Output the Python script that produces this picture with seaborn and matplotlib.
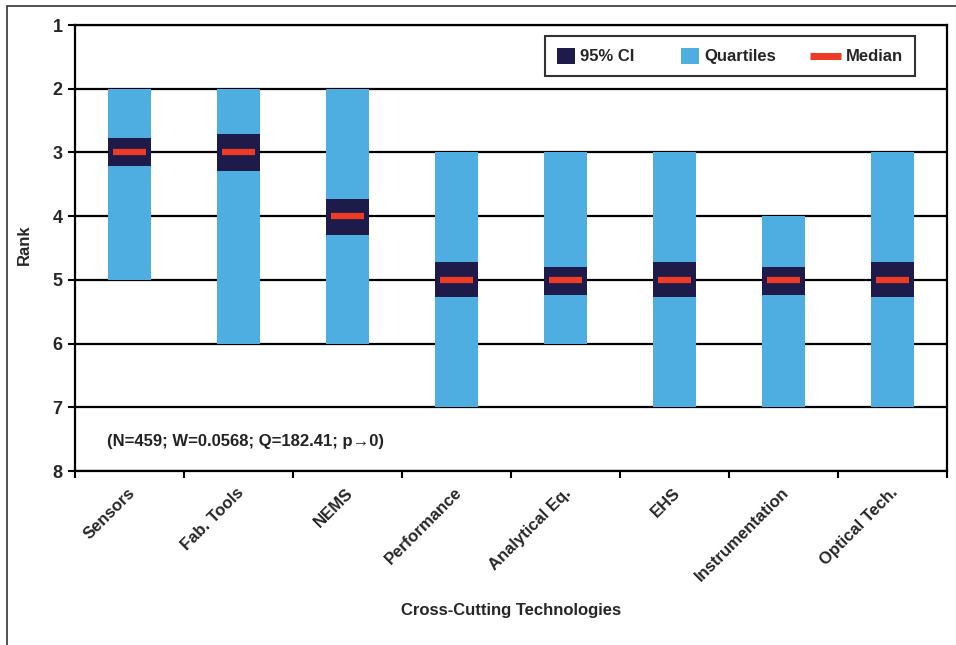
#!/usr/bin/env python3
"""Rank distribution of cross-cutting technologies: quartiles, 95% CI and median."""

import numpy as np
import pandas as pd
import matplotlib
matplotlib.use("Agg")
import matplotlib.pyplot as plt
import matplotlib.transforms as mtransforms
from matplotlib.patches import Patch, Rectangle
from matplotlib.lines import Line2D
from matplotlib.legend_handler import HandlerBase
import seaborn as sns


# ---------------------------------------------------------------------------
# Data
# ---------------------------------------------------------------------------
categories = ["Sensors", "Fab. Tools", "NEMS", "Performance",
              "Analytical Eq.", "EHS", "Instrumentation", "Optical Tech."]
q1 = [2, 2, 2, 3, 3, 3, 4, 3]
q3 = [5, 6, 6, 7, 6, 7, 7, 7]
ci_lo = [2.77, 2.71, 3.73, 4.72, 4.80, 4.72, 4.80, 4.72]
ci_hi = [3.21, 3.29, 4.30, 5.27, 5.23, 5.27, 5.23, 5.27]
median = [3, 3, 4, 5, 5, 5, 5, 5]
rank_ticks = [1, 2, 3, 4, 5, 6, 7, 8]
stats_note = "(N=459; W=0.0568; Q=182.41; p\u21920)"

LIGHT_BLUE = "#4FAEE1"
NAVY = "#1E1B4B"
RED = "#EE3B24"


class HandlerWideLine(HandlerBase):
    """Median swatch: a thick red bar a bit longer than the square swatches."""

    def create_artists(self, legend, orig_handle, xdescent, ydescent,
                       width, height, fontsize, trans):
        y = height / 2 - ydescent
        extra = 9.5  # points added on the left
        line = Line2D([-xdescent - extra, width - xdescent], [y, y],
                      color=orig_handle.get_color(), linewidth=5,
                      solid_capstyle="butt", transform=trans)
        return [line]


sns.set_theme(style="white")
plt.rcParams["font.family"] = ["Liberation Sans", "DejaVu Sans"]
plt.rcParams["font.weight"] = "bold"

df = pd.DataFrame({
    "tech": categories,
    "q1": q1, "q3": q3,
    "ci_lo": ci_lo, "ci_hi": ci_hi,
    "median": median,
})
df["iqr"] = df["q3"] - df["q1"]
df["ci"] = df["ci_hi"] - df["ci_lo"]

fig = plt.figure(figsize=(9.56, 6.45), dpi=100)
ax = fig.add_axes([75 / 956, 1 - 471 / 645, 872 / 956, 446 / 645])

# quartile bars
sns.barplot(data=df, x="tech", y="iqr", bottom=df["q1"].values,
            color=LIGHT_BLUE, saturation=1, width=0.395, errorbar=None,
            linewidth=0, ax=ax, zorder=2)
# 95% CI boxes
sns.barplot(data=df, x="tech", y="ci", bottom=df["ci_lo"].values,
            color=NAVY, saturation=1, width=0.395, errorbar=None,
            linewidth=0, ax=ax, zorder=3)
# medians
xpos = np.arange(len(categories))
ax.hlines(df["median"], xpos - 0.147, xpos + 0.147, color=RED, lw=4.5, zorder=4)

ax.set_ylim(8, 1)
ax.set_xlim(-0.5, len(categories) - 0.5)
ax.set_yticks(rank_ticks)
ax.set_yticklabels([str(t) for t in rank_ticks], fontsize=13, fontweight="bold")
ax.yaxis.grid(True, color="black", linewidth=1.6)
ax.set_axisbelow(True)
ax.tick_params(axis="y", left=True, length=5, width=1.5, color="black", pad=4)

# x ticks: marks at category boundaries, labels at centres
ax.set_xticks(np.arange(-0.5, len(categories)), minor=True)
ax.tick_params(axis="x", which="minor", bottom=True, length=5, width=1.5, color="black")
ax.tick_params(axis="x", which="major", bottom=False, length=0, pad=14)
ax.set_xticks(xpos)
ax.set_xticklabels(categories, rotation=45, ha="right", va="center",
                   rotation_mode="anchor", fontsize=12, fontweight="bold")
offset = mtransforms.ScaledTranslation(3 / 100, 0, fig.dpi_scale_trans)
for lbl in ax.get_xticklabels():
    lbl.set_transform(lbl.get_transform() + offset)

for side in ["left", "bottom", "right", "top"]:
    ax.spines[side].set_visible(True)
    ax.spines[side].set_color("black")
    ax.spines[side].set_linewidth(1.6)

ax.set_xlabel("Cross-Cutting Technologies", fontsize=12, fontweight="bold")
ax.xaxis.set_label_coords(0.5, -0.295)
ax.set_ylabel("Rank", fontsize=12, fontweight="bold")
ax.yaxis.set_label_coords(-0.049, 0.507)

ax.text(-0.21, 7.53, stats_note, fontsize=12, fontweight="bold",
        ha="left", va="center", color="#222222")

handles = [
    Patch(facecolor=NAVY, edgecolor="none", label="95% CI"),
    Patch(facecolor=LIGHT_BLUE, edgecolor="none", label="Quartiles"),
    Line2D([], [], color=RED, label="Median"),
]
leg = ax.legend(handles=handles, ncol=3, loc="upper right",
                bbox_to_anchor=(915 / 956, 1 - 36 / 645),
                bbox_transform=fig.transFigure, borderaxespad=0,
                frameon=True, fancybox=False, edgecolor="black",
                handlelength=1.1, handleheight=1.1,
                handletextpad=0.3, columnspacing=2.8,
                borderpad=0.7, prop={"weight": "bold", "size": 12},
                handler_map={Line2D: HandlerWideLine()})
leg.get_frame().set_linewidth(1.5)

# outer frame of the original figure
fig.patches.append(Rectangle((7 / 956, -0.1), 2, 1.1 - 6 / 645,
                             transform=fig.transFigure, fill=False,
                             edgecolor="#333333", linewidth=1.2))

fig.savefig("out.png", dpi=100)
plt.close(fig)
